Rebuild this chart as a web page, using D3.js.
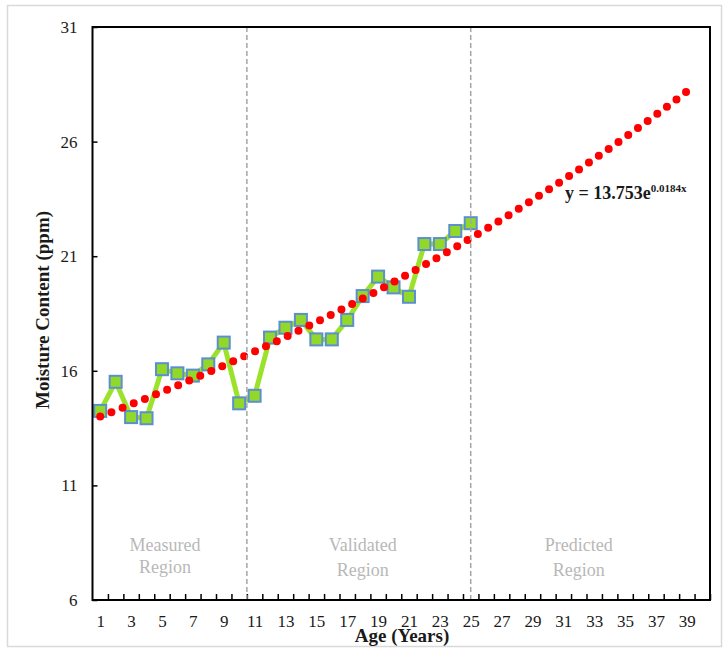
<!DOCTYPE html>
<html lang="en">
  <head>
    <meta charset="UTF-8" />
    <script src="https://cdnjs.cloudflare.com/ajax/libs/d3/7.8.5/d3.min.js"></script>
    <title>Moisture Content</title>
    <style>
      body {
        margin: 0;
        background: white;
      }
      text {
        font-family: "Palatino Linotype", "Book Antiqua", Palatino, "Liberation Serif", serif;
        fill: #1a1a1a;
      }
      .tick text {
        font-size: 17px;
      }
      .region {
        fill: #b8b8b8;
        font-size: 18px;
        text-anchor: middle;
      }
      .title {
        font-weight: bold;
        font-size: 19px;
        text-anchor: middle;
      }
    </style>
  </head>
  <body>
    <script>
      // measured / validated moisture readings, ages 1..25
      const ages = d3.range(1, 26);
      const moisture = [
        14.25, 15.52, 13.98, 13.93, 16.07, 15.89, 15.79, 16.28, 17.23, 14.58,
        14.91, 17.45, 17.88, 18.22, 17.37, 17.37, 18.22, 19.26, 20.11, 19.64,
        19.23, 21.53, 21.53, 22.1, 22.44,
      ];
      const categories = d3.range(1, 41);
      const xLabels = d3.range(1, 40, 2);
      const yTicks = [6, 11, 16, 21, 26, 31];
      // exponential trend y = a*e^(b*x), forecast out to age 39
      const trendA = 13.753;
      const trendB = 0.0184;
      const trendRange = [1, 39];
      const dividers = [10.5, 25];
      const regions = [
        { lines: ["Measured", "Region"], x: 5.2, gap: 22 },
        { lines: ["Validated", "Region"], x: 18, gap: 25 },
        { lines: ["Predicted", "Region"], x: 32, gap: 25 },
      ];

      const width = 727,
        height = 651;
      const plot = { left: 92.5, right: 710, top: 27, bottom: 600 };

      const svg = d3
        .select("body")
        .append("svg")
        .attr("width", width)
        .attr("height", height);

      svg
        .append("rect")
        .attr("x", 7.5)
        .attr("y", 5.5)
        .attr("width", 714)
        .attr("height", 641)
        .attr("fill", "white")
        .attr("stroke", "#d9d9d9")
        .attr("stroke-width", 1.5);

      const x = d3
        .scaleLinear()
        .domain([0.5, categories.length + 0.5])
        .range([plot.left, plot.right]);
      const y = d3
        .scaleLinear()
        .domain([6, 31])
        .range([plot.bottom, plot.top]);

      // y axis
      svg
        .append("g")
        .attr("transform", `translate(${plot.left},0)`)
        .call(
          d3
            .axisLeft(y)
            .tickValues(yTicks)
            .tickSize(0)
            .tickPadding(15)
        )
        .call((g) => g.select(".domain").remove());
      svg
        .append("g")
        .attr("transform", `translate(${plot.left},0)`)
        .call(
          d3
            .axisRight(y)
            .tickValues(yTicks)
            .tickSize(5)
            .tickFormat("")
        )
        .call((g) => g.select(".domain").remove())
        .selectAll("line")
        .attr("stroke", "black")
        .attr("stroke-width", 1.5);

      // x axis labels
      svg
        .append("g")
        .attr("transform", `translate(0,${plot.bottom})`)
        .call(
          d3
            .axisBottom(x)
            .tickValues(xLabels)
            .tickSize(0)
            .tickPadding(15)
        )
        .call((g) => g.select(".domain").remove());
      // tick marks between categories
      svg
        .append("g")
        .attr("transform", `translate(0,${plot.bottom})`)
        .call(
          d3
            .axisTop(x)
            .tickValues(categories.map((c) => c + 0.5))
            .tickSize(6)
            .tickFormat("")
        )
        .call((g) => g.select(".domain").remove())
        .selectAll("line")
        .attr("stroke", "black")
        .attr("stroke-width", 1.5);

      // data line + markers
      const pts = ages.map((a, i) => [a, moisture[i]]);
      svg
        .append("path")
        .datum(pts)
        .attr("fill", "none")
        .attr("stroke", "#9be22a")
        .attr("stroke-width", 5)
        .attr("stroke-linejoin", "round")
        .attr(
          "d",
          d3
            .line()
            .x((d) => x(d[0]))
            .y((d) => y(d[1]))
        );
      svg
        .append("g")
        .selectAll("rect")
        .data(pts)
        .join("rect")
        .attr("x", (d) => x(d[0]) - 6)
        .attr("y", (d) => y(d[1]) - 6)
        .attr("width", 12)
        .attr("height", 12)
        .attr("fill", "#92d82a")
        .attr("stroke", "#5b8fcf")
        .attr("stroke-width", 2);

      // trend line, dotted
      const trendX = d3.range(trendRange[0], trendRange[1] + 0.001, 0.1);
      svg
        .append("path")
        .datum(trendX)
        .attr("fill", "none")
        .attr("stroke", "#ff0000")
        .attr("stroke-width", 8)
        .attr("stroke-linecap", "round")
        .attr("stroke-dasharray", "0 12")
        .attr(
          "d",
          d3
            .line()
            .x((d) => x(d))
            .y((d) => y(trendA * Math.exp(trendB * d)))
        );

      // region dividers
      svg
        .append("g")
        .selectAll("line")
        .data(dividers)
        .join("line")
        .attr("x1", (d) => x(d))
        .attr("x2", (d) => x(d))
        .attr("y1", plot.top)
        .attr("y2", plot.bottom)
        .attr("stroke", "#a6a6a6")
        .attr("stroke-width", 1.5)
        .attr("stroke-dasharray", "5 3");

      // plot frame
      svg
        .append("rect")
        .attr("x", plot.left)
        .attr("y", plot.top)
        .attr("width", plot.right - plot.left)
        .attr("height", plot.bottom - plot.top)
        .attr("fill", "none")
        .attr("stroke", "black")
        .attr("stroke-width", 2);

      // region labels
      const reg = svg
        .append("g")
        .selectAll("text")
        .data(regions)
        .join("text")
        .attr("class", "region")
        .attr("y", 551);
      reg
        .selectAll("tspan")
        .data((d) => d.lines.map((l) => ({ l, x: d.x, gap: d.gap })))
        .join("tspan")
        .attr("x", (d) => x(d.x))
        .attr("dy", (d, i) => (i === 0 ? 0 : d.gap))
        .text((d) => d.l);

      // equation
      const eq = svg
        .append("text")
        .attr("x", 565)
        .attr("y", 199)
        .attr("font-weight", "bold")
        .attr("font-size", 18);
      eq.append("tspan").text(`y = ${trendA}e`);
      eq.append("tspan")
        .attr("font-size", 11)
        .attr("dy", -7)
        .text(`${trendB}x`);

      // axis titles
      svg
        .append("text")
        .attr("class", "title")
        .attr("x", 402)
        .attr("y", 642)
        .text("Age (Years)");
      svg
        .append("text")
        .attr("class", "title")
        .attr("transform", "translate(49,310) rotate(-90)")
        .text("Moisture Content (ppm)");
    </script>
  </body>
</html>
